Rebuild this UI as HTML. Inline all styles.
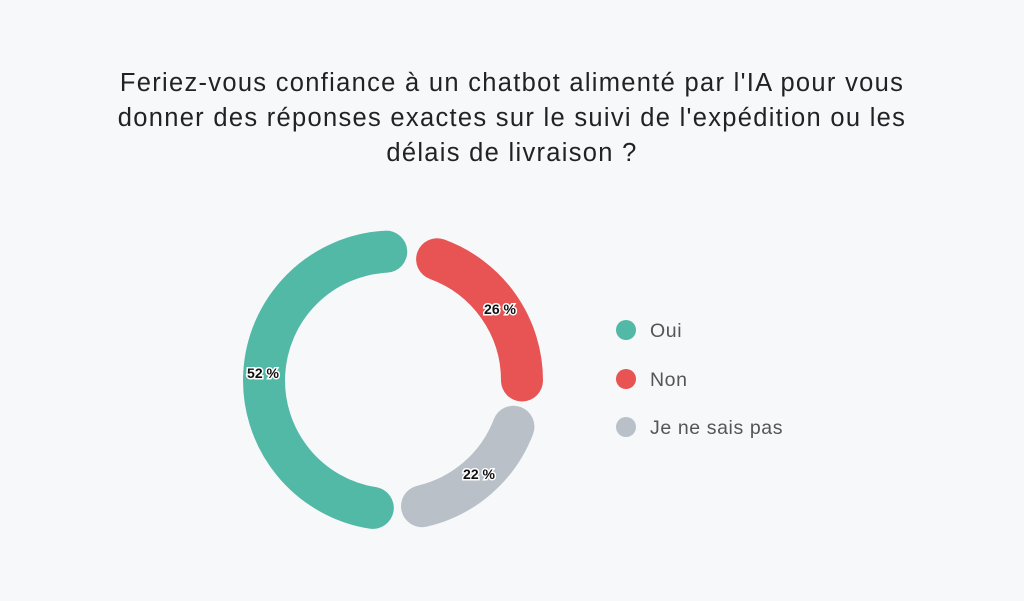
<!DOCTYPE html>
<html><head><meta charset="utf-8"><style>
html,body{margin:0;padding:0;background:#f7f8fa;}
body{width:1024px;height:601px;overflow:hidden;position:relative;font-family:"Liberation Sans",sans-serif;}
.t{position:absolute;left:0;width:1024px;top:66px;text-align:center;font-size:25.5px;letter-spacing:1.3px;line-height:35px;color:#222;}
</style></head><body>
<div class="t">Feriez-vous confiance à un chatbot alimenté par l'IA pour vous<br>donner des réponses exactes sur le suivi de l'expédition ou les<br>délais de livraison ?</div>
<svg width="1024" height="601" style="position:absolute;left:0;top:0">
<g fill="none" stroke-width="42" stroke-linecap="round">
<path id="a" stroke="#52b9a7"/>
<path id="b" stroke="#e85354"/>
<path id="c" stroke="#b9c0c8"/>
</g>
<g font-family="Liberation Sans" font-weight="bold" font-size="14" text-anchor="middle" stroke="#fff" stroke-width="3" paint-order="stroke" fill="#111">
<text x="263" y="378">52 %</text>
<text x="500" y="314">26 %</text>
<text x="479" y="479">22 %</text>
</g>
<g font-family="Liberation Sans" font-size="19.5" letter-spacing="0.6" fill="#555">
<circle cx="626" cy="330" r="10" fill="#52b9a7"/><text x="650" y="337">Oui</text>
<circle cx="626" cy="379" r="10" fill="#e85354"/><text x="650" y="386">Non</text>
<circle cx="626" cy="427" r="10" fill="#b9c0c8"/><text x="650" y="434">Je ne sais pas</text>
</g>
</svg>
<script>
function arc(id,a0,a1){var cx=393,cy=380.5,r=129;function p(a){a=a*Math.PI/180;return (cx+r*Math.sin(a)).toFixed(2)+" "+(cy-r*Math.cos(a)).toFixed(2);}
document.getElementById(id).setAttribute("d","M"+p(a0)+" A"+r+" "+r+" 0 "+((a1-a0)>180?1:0)+" 1 "+p(a1));}
arc("a",189,357);arc("b",20,90);arc("c",111,167);
</script>
</body></html>
